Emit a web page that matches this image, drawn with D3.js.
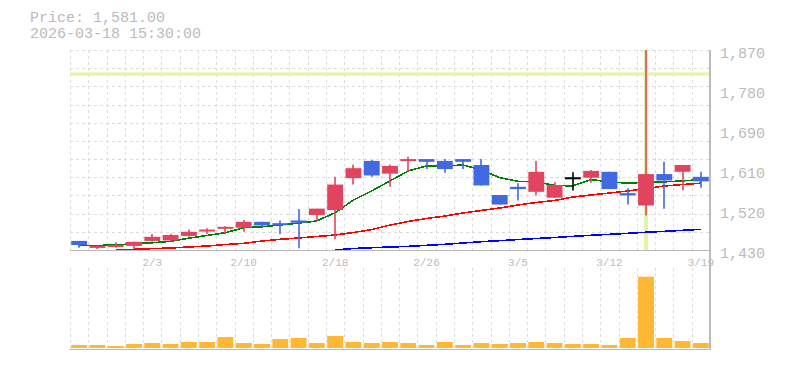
<!DOCTYPE html>
<meta charset="UTF-8">
<style>
  body { margin: 0; background: #fff; }
  text { font-family: "Courier New", "Liberation Mono", monospace; fill: #bbb; }
  .grid line { stroke: #ddd; stroke-dasharray: 3,3; shape-rendering: crispEdges; }
  .axisline { stroke: #bbb; stroke-width: 1.5; shape-rendering: crispEdges; }
  .ma { fill: none; stroke-width: 1.6; shape-rendering: crispEdges; }
</style>
<body>
<svg id="chart" width="785" height="370"></svg>

<script src="https://cdnjs.cloudflare.com/ajax/libs/d3/7.8.5/d3.min.js"></script>
<script>

// trading days shown on the chart
var dates = ["1/28","1/29","1/30","2/2","2/3","2/4","2/5","2/6","2/9","2/10",
             "2/12","2/13","2/16","2/17","2/18","2/19","2/20","2/24","2/25","2/26",
             "2/27","3/2","3/3","3/4","3/5","3/6","3/9","3/10","3/11","3/12",
             "3/13","3/16","3/17","3/18","3/19"];

// daily prices
var opens  = [1450,1435,1437,1439,1450,1451,1461,1473,1477,1479,1492,1489,1495,1507,1518,1588,1626,1598,1627,1630,
              1626,1630,1617,1551,1569,1558,1545,1590,1589,1602,1555,1528,1597,1602,1591];
var highs  = [1450,1440,1447,1448,1465,1466,1475,1478,1482,1496,1492,1495,1520,1521,1591,1618,1628,1618,1635,1630,
              1630,1630,1630,1551,1577,1626,1579,1601,1606,1602,1566,1870,1624,1617,1602];
var lows   = [1435,1432,1435,1432,1448,1450,1459,1465,1466,1470,1480,1465,1434,1494,1454,1574,1591,1569,1602,1608,
              1600,1608,1572,1530,1539,1550,1545,1561,1578,1564,1530,1506,1521,1561,1567];
var closes = [1441,1439,1441,1448,1459,1463,1470,1475,1481,1492,1484,1485,1490,1521,1574,1610,1594,1615,1630,1624,
              1608,1624,1572,1530,1564,1602,1573,1590,1604,1564,1550,1597,1583,1617,1581];

// moving averages (5, 25, 75 day)
var ma5  = [1440,1440,1441,1444,1446,1449,1456,1462,1468,1479,1481,1485,1489,1494,1512,1540,1560,1582,1604,1615,
            1615,1617,1606,1589,1581,1580,1572,1571,1585,1580,1577,1579,1580,1582,1585];
var ma25 = [null,null,1430,1431.5,1433,1434.4,1436.6,1438.8,1442,1444.7,1449.8,1453.5,1456.4,1459.7,1463,1468.5,1475,1485,1492.7,1499.3,
            1504.8,1511.4,1517,1522.4,1529,1534.5,1539,1546.6,1551,1555.4,1559.8,1565.3,1570.8,1574,1577];
var ma75 = [null,null,null,null,null,null,null,null,null,null,null,null,null,null,1430,1433.3,1435,1436.6,1438,1440.3,
            1442.5,1445.4,1448.3,1450.5,1453,1455.3,1457.5,1460,1462.3,1464.5,1466.7,1469,1471,1473.3,1475.5];

// volume (thousand shares)
var volumes = [60,60,40,80,100,80,120,120,220,100,80,180,200,100,240,120,100,120,100,60,
               120,60,100,80,100,120,100,80,80,60,200,1426,200,140,100];

var priceTicks = [1430,1518,1606,1694,1782,1870];
var tickDates = ["2/3","2/10","2/18","2/26","3/5","3/12","3/19"];
var cursorDate = "3/16", cursorPrice = 1817;

var svg = d3.select("#chart");
var pLeft = 70, pRight = 710, pTop = 50, pBottom = 250;
var volTop = 270, volBottom = 348;

var x = d3.scaleBand().domain(dates).range([pLeft, pRight]);
var bw = x.bandwidth();
var cx = function(d) { return x(d) + bw / 2; };
var y = d3.scaleLinear().domain([1430, 1870]).range([pBottom, pTop]);
var yv = d3.scaleLinear().domain([0, 1560]).range([volBottom, volTop]);

svg.append("defs").append("clipPath").attr("id", "clipMain")
  .append("rect").attr("x", pLeft).attr("y", pTop).attr("width", pRight - pLeft).attr("height", pBottom - pTop);

// header
svg.append("text").attr("x", 30).attr("y", 22).style("font-size", "15px").text("Price: 1,581.00");
svg.append("text").attr("x", 30).attr("y", 38).style("font-size", "15px").text("2026-03-18 15:30:00");

// grid
var grid = svg.append("g").attr("class", "grid");
grid.selectAll(".h").data(d3.range(1430, 1871, 40)).enter().append("line")
  .attr("x1", pLeft).attr("x2", pRight)
  .attr("y1", function(d) { return Math.round(y(d)) + 0.5; })
  .attr("y2", function(d) { return Math.round(y(d)) + 0.5; });
grid.selectAll(".v").data(dates).enter().append("line")
  .attr("x1", function(d) { return Math.round(x(d)) + 0.5; })
  .attr("x2", function(d) { return Math.round(x(d)) + 0.5; })
  .attr("y1", pTop).attr("y2", pBottom);
grid.selectAll(".vv").data(dates).enter().append("line")
  .attr("x1", function(d) { return Math.round(x(d)) + 0.5; })
  .attr("x2", function(d) { return Math.round(x(d)) + 0.5; })
  .attr("y1", volTop - 2).attr("y2", volBottom);

// cursor
svg.append("line").attr("x1", pLeft).attr("x2", pRight)
  .attr("y1", y(cursorPrice)).attr("y2", y(cursorPrice))
  .attr("stroke", "#e2f5a6").attr("stroke-width", 3);
svg.append("line").attr("x1", cx(cursorDate)).attr("x2", cx(cursorDate))
  .attr("y1", pTop).attr("y2", pBottom)
  .attr("stroke", "#e2f5a6").attr("stroke-width", 4);

// axes lines
svg.append("line").attr("class", "axisline").attr("x1", pLeft).attr("x2", pRight).attr("y1", pBottom + 0.5).attr("y2", pBottom + 0.5);
svg.append("line").attr("class", "axisline").attr("x1", pLeft).attr("x2", pRight).attr("y1", volBottom + 1.5).attr("y2", volBottom + 1.5);
svg.append("line").attr("class", "axisline").attr("x1", pRight).attr("x2", pRight).attr("y1", pTop).attr("y2", volBottom + 2);

// price labels
svg.selectAll(".plabel").data(priceTicks).enter().append("text")
  .attr("x", 720).attr("y", function(d) { return y(d) + 8; })
  .style("font-size", "15px")
  .text(function(d) { return d3.format(",")(Math.round(d / 10) * 10); });

// date labels
svg.selectAll(".dlabel").data(tickDates).enter().append("text")
  .attr("x", function(d) { return cx(d); }).attr("y", 266)
  .attr("text-anchor", "middle").style("font-size", "11px")
  .text(function(d) { return d; });

var rows = dates.map(function(d, i) {
  return {date: d, o: opens[i], h: highs[i], l: lows[i], c: closes[i], v: volumes[i],
          m5: ma5[i], m25: ma25[i], m75: ma75[i]};
});

function candleColor(d) {
  if (d.c > d.o) return "#e2445f";
  if (d.c < d.o) return "#4169e1";
  return "#000";
}

var plot = svg.append("g").attr("clip-path", "url(#clipMain)");

// moving averages
var maDefs = [["m75", "#0000ff"], ["m25", "#ff0000"], ["m5", "#008000"]];
maDefs.forEach(function(m) {
  var line = d3.line()
    .defined(function(d) { return d[m[0]] != null; })
    .x(function(d) { return cx(d.date); })
    .y(function(d) { return y(d[m[0]]); });
  plot.append("path").attr("class", "ma").attr("stroke", m[1]).attr("d", line(rows));
});

// candles
var candle = plot.selectAll(".candle").data(rows).enter().append("g");
candle.append("line")
  .attr("x1", function(d) { return Math.round(cx(d.date)); })
  .attr("x2", function(d) { return Math.round(cx(d.date)); })
  .attr("y1", function(d) { return y(d.h); })
  .attr("y2", function(d) { return y(d.l); })
  .attr("stroke", candleColor).attr("stroke-width", 1.6);
candle.append("rect")
  .attr("x", function(d) { return x(d.date) + 1.2; })
  .attr("width", bw - 2.4)
  .attr("y", function(d) { return y(Math.max(d.o, d.c)); })
  .attr("height", function(d) { return Math.max(2, Math.abs(y(d.o) - y(d.c))); })
  .attr("fill", candleColor);

// volume
svg.selectAll(".vol").data(rows).enter().append("rect")
  .attr("x", function(d) { return x(d.date) + 1.2; })
  .attr("width", bw - 2.4)
  .attr("y", function(d) { return yv(d.v); })
  .attr("height", function(d) { return volBottom - yv(d.v); })
  .attr("fill", "#ffb833");

</script>
</body>
